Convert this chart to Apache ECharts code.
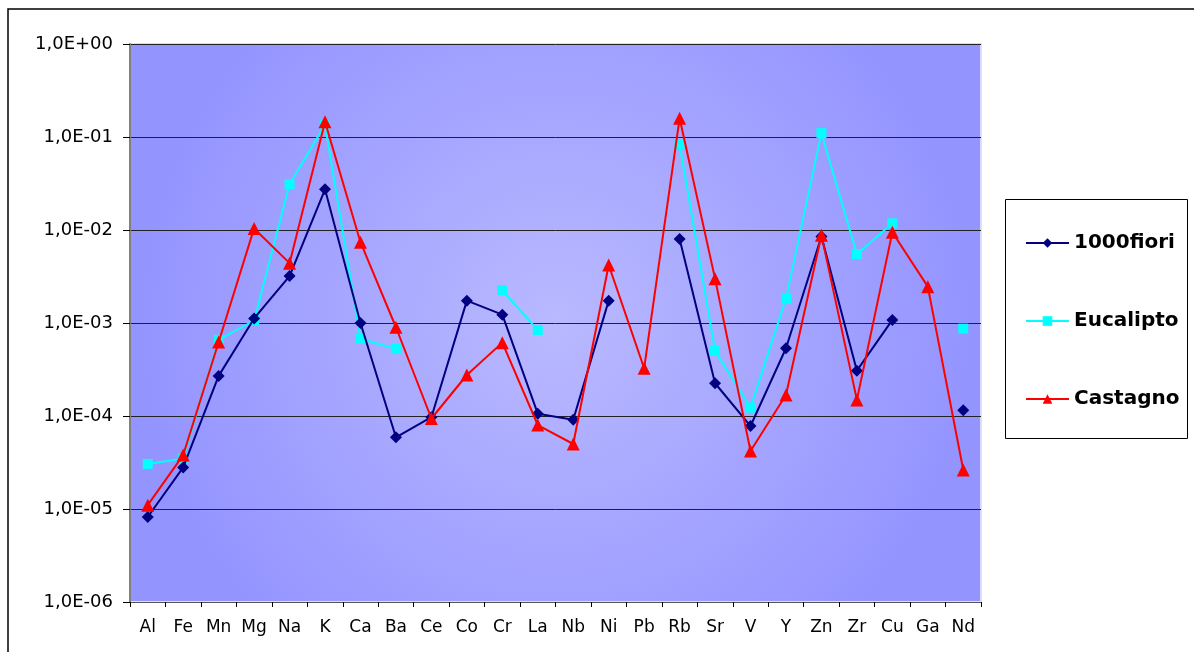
<!DOCTYPE html>
<html>
<head>
<meta charset="utf-8">
<script src="https://cdn.jsdelivr.net/npm/echarts@6/dist/echarts.min.js"></script>
<style>
html,body{margin:0;padding:0;background:#fff;}
#chart{width:1194px;height:652px;}
</style>
</head>
<body>
<div id="chart"></div>
<script>
var categories = ['Al','Fe','Mn','Mg','Na','K','Ca','Ba','Ce','Co','Cr','La','Nb','Ni','Pb','Rb','Sr','V','Y','Zn','Zr','Cu','Ga','Nd'];
var seriesNames = ['1000fiori','Eucalipto','Castagno'];
var millefiori = [8.2e-6,2.8e-5,2.7e-4,1.12e-3,3.2e-3,2.74e-2,1.0e-3,5.9e-5,9.7e-5,1.74e-3,1.23e-3,1.06e-4,9.1e-5,1.74e-3,null,8.0e-3,2.25e-4,7.8e-5,5.35e-4,8.5e-3,3.07e-4,1.08e-3,null,1.15e-4];
var eucalipto = [3.05e-5,3.5e-5,6.6e-4,1.06e-3,3.1e-2,0.135,6.8e-4,5.25e-4,null,null,2.25e-3,8.4e-4,null,null,null,8.4e-2,5.0e-4,1.23e-4,1.84e-3,0.11,5.5e-3,1.18e-2,null,8.7e-4];
var castagno = [1.1e-5,3.8e-5,6.25e-4,1.04e-2,4.4e-3,0.146,7.4e-3,9.0e-4,9.4e-5,2.76e-4,6.15e-4,8.0e-5,5.0e-5,4.2e-3,3.26e-4,0.159,3.0e-3,4.2e-5,1.68e-4,8.8e-3,1.49e-4,9.45e-3,2.46e-3,2.63e-5];
var yMin = 1e-6, yMax = 1;

function fmt(v){
  var e = Math.round(Math.log10(v));
  var s = e < 0 ? '-' : '+';
  var a = Math.abs(e);
  return '1,0E' + s + (a < 10 ? '0' + a : a);
}

var chart = echarts.init(document.getElementById('chart'), null, {renderer:'canvas'});
var font = 'DejaVu Sans, Verdana, sans-serif';
chart.setOption({
  animation:false,
  backgroundColor:'#ffffff',
  textStyle:{fontFamily:font},
  grid:{
    left:130, top:44, right:213, bottom:50,
    show:true,
    borderWidth:2,
    borderColor:'#dcdcff',
    backgroundColor:{
      type:'radial', x:0.5, y:0.5, r:0.75,
      colorStops:[{offset:0,color:'#b9b9ff'},{offset:1,color:'#9494ff'}]
    }
  },
  graphic:[
    {type:'rect', shape:{x:8,y:9,width:1250,height:700}, style:{fill:'none',stroke:'#000',lineWidth:1.5}, silent:true, z:-1},
    {type:'rect', shape:{x:1005.5,y:199.5,width:182,height:239}, style:{fill:'#ffffff',stroke:'#000',lineWidth:1}, silent:true, z:0}
  ],
  legend:{
    orient:'vertical',
    left:1020, top:228,
    itemGap:58,
    itemWidth:43, itemHeight:12,
    data:seriesNames,
    textStyle:{fontFamily:font, fontSize:20, fontWeight:'bold', color:'#000'},
    z:5
  },
  xAxis:{
    type:'category',
    data:categories,
    boundaryGap:true,
    axisLine:{lineStyle:{color:'#555',width:1}},
    axisTick:{show:true, length:5, lineStyle:{color:'#000'}},
    axisLabel:{color:'#000', fontSize:17, fontFamily:font, margin:17, interval:0},
    splitLine:{show:false}
  },
  yAxis:{
    type:'log',
    logBase:10,
    min:yMin, max:yMax,
    axisLine:{show:true, lineStyle:{color:'#808080',width:2}},
    axisTick:{show:true, length:7, lineStyle:{color:'#000'}},
    axisLabel:{color:'#000', fontSize:18, fontFamily:font, margin:17, formatter:fmt},
    splitLine:{show:true, lineStyle:{color:'#222',width:1}},
    minorTick:{show:false}
  },
  series:[
    {name:seriesNames[0], type:'line', data:millefiori, symbol:'diamond', symbolSize:12, showAllSymbol:true,
     itemStyle:{color:'#000080'}, lineStyle:{color:'#000080',width:2}, connectNulls:false, z:3},
    {name:seriesNames[1], type:'line', data:eucalipto, symbol:'rect', symbolSize:10, showAllSymbol:true,
     itemStyle:{color:'#00ffff'}, lineStyle:{color:'#00ffff',width:2}, connectNulls:false, z:2},
    {name:seriesNames[2], type:'line', data:castagno, symbol:'triangle', symbolSize:13, showAllSymbol:true,
     itemStyle:{color:'#ff0000'}, lineStyle:{color:'#ff0000',width:2}, connectNulls:false, z:4}
  ]
});
</script>
</body>
</html>
